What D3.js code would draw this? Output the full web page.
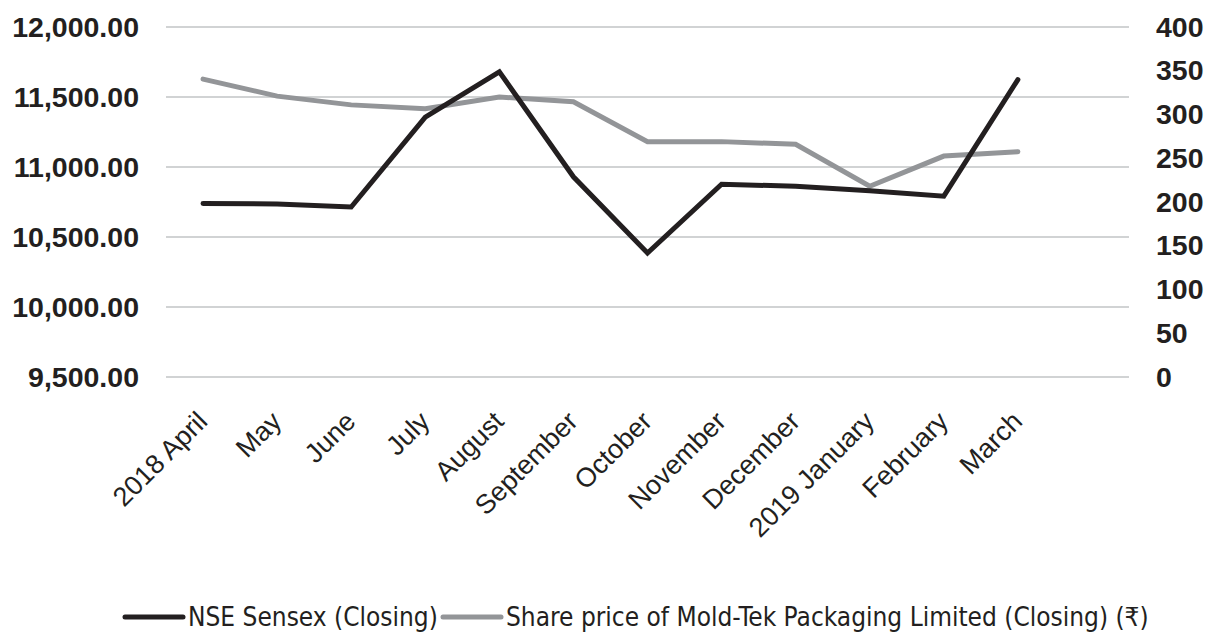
<!DOCTYPE html>
<html>
<head>
<meta charset="utf-8">
<script src="https://cdn.jsdelivr.net/npm/d3@7"></script>
<style>
  body { margin: 0; background: #fff; }
  svg { display: block; }
</style>
</head>
<body>
<script>
// month labels on the category axis
var months = ["2018 April", "May", "June", "July", "August", "September",
              "October", "November", "December", "2019 January", "February", "March"];
// NSE Sensex closing (left axis)
var sensex = [10739, 10736, 10714, 11356, 11680, 10930, 10386, 10877, 10862, 10831, 10792, 11624];
// Mold-Tek share price closing (right axis)
var moldtek = [340.5, 321, 311, 306.5, 320, 314.5, 269, 269, 266, 218, 252.5, 257.5];
var leftTicks = [9500, 10000, 10500, 11000, 11500, 12000];
var rightTicks = [0, 50, 100, 150, 200, 250, 300, 350, 400];
var seriesNames = ["NSE Sensex (Closing)", "Share price of Mold-Tek Packaging Limited (Closing) (\u20B9)"];

var width = 1207, height = 634;
var margin = {top: 27, right: 78, bottom: 257, left: 166};
var plotW = width - margin.left - margin.right,
    plotH = height - margin.top - margin.bottom;

var svg = d3.select("body").append("svg")
  .attr("width", width)
  .attr("height", height);

var g = svg.append("g")
  .attr("transform", "translate(" + margin.left + "," + margin.top + ")");

// 13 slots across the plot, last one left empty like the original
var x = d3.scaleBand()
  .domain(months)
  .range([0, plotW * 12 / 13]);

var yLeft = d3.scaleLinear().domain([9500, 12000]).range([plotH, 0]);
var yRight = d3.scaleLinear().domain([0, 400]).range([plotH, 0]);

// gridlines
g.selectAll(".grid")
  .data(leftTicks)
  .enter()
  .append("line")
  .attr("class", "grid")
  .attr("x1", 0)
  .attr("x2", plotW)
  .attr("y1", function(d){ return yLeft(d); })
  .attr("y2", function(d){ return yLeft(d); })
  .attr("stroke", "#d1d3d4")
  .attr("stroke-width", 2);

// left axis
var leftAxis = g.append("g")
  .call(d3.axisLeft(yLeft).tickValues(leftTicks).tickSize(0).tickPadding(27)
    .tickFormat(d3.format(",.2f")));
leftAxis.select(".domain").remove();
leftAxis.selectAll("text")
  .attr("font-family", "Liberation Sans, Arial, sans-serif")
  .attr("font-weight", "bold")
  .attr("font-size", 28.5)
  .attr("fill", "#231f20");

// right axis
var rightAxis = g.append("g")
  .attr("transform", "translate(" + plotW + ",0)")
  .call(d3.axisRight(yRight).tickValues(rightTicks).tickSize(0).tickPadding(27));
rightAxis.select(".domain").remove();
rightAxis.selectAll("text")
  .attr("font-family", "Liberation Sans, Arial, sans-serif")
  .attr("font-weight", "bold")
  .attr("font-size", 28.5)
  .attr("fill", "#231f20");

// category labels, rotated
g.selectAll(".month")
  .data(months)
  .enter()
  .append("text")
  .attr("class", "month")
  .attr("transform", function(d){
    return "translate(" + (x(d) + x.bandwidth() / 2 + 6) + "," + (plotH + 46) + ") rotate(-45)";
  })
  .attr("text-anchor", "end")
  .attr("font-family", "Liberation Sans, Arial, sans-serif")
  .attr("font-size", 27)
  .attr("fill", "#231f20")
  .text(function(d){ return d; });

// lines
var lineLeft = d3.line()
  .x(function(d, i){ return x(months[i]) + x.bandwidth() / 2; })
  .y(function(d){ return yLeft(d); });
var lineRight = d3.line()
  .x(function(d, i){ return x(months[i]) + x.bandwidth() / 2; })
  .y(function(d){ return yRight(d); });

g.append("path")
  .datum(moldtek)
  .attr("d", lineRight)
  .attr("fill", "none")
  .attr("stroke", "#939598")
  .attr("stroke-width", 5)
  .attr("stroke-linecap", "round");

g.append("path")
  .datum(sensex)
  .attr("d", lineLeft)
  .attr("fill", "none")
  .attr("stroke", "#231f20")
  .attr("stroke-width", 5)
  .attr("stroke-linecap", "round");

// legend
var legendY = 617;
var legendColors = ["#231f20", "#939598"];
var legendX = [125, 443];
seriesNames.forEach(function(name, i){
  svg.append("line")
    .attr("x1", legendX[i])
    .attr("x2", legendX[i] + 58)
    .attr("y1", legendY)
    .attr("y2", legendY)
    .attr("stroke", legendColors[i])
    .attr("stroke-width", 5)
    .attr("stroke-linecap", "round");
  svg.append("text")
    .attr("x", legendX[i] + 63)
    .attr("y", legendY + 9)
    .attr("font-family", "DejaVu Sans Condensed, DejaVu Sans, sans-serif")
    .attr("font-size", 26)
    .attr("fill", "#231f20")
    .text(name);
});
</script>
</body>
</html>
